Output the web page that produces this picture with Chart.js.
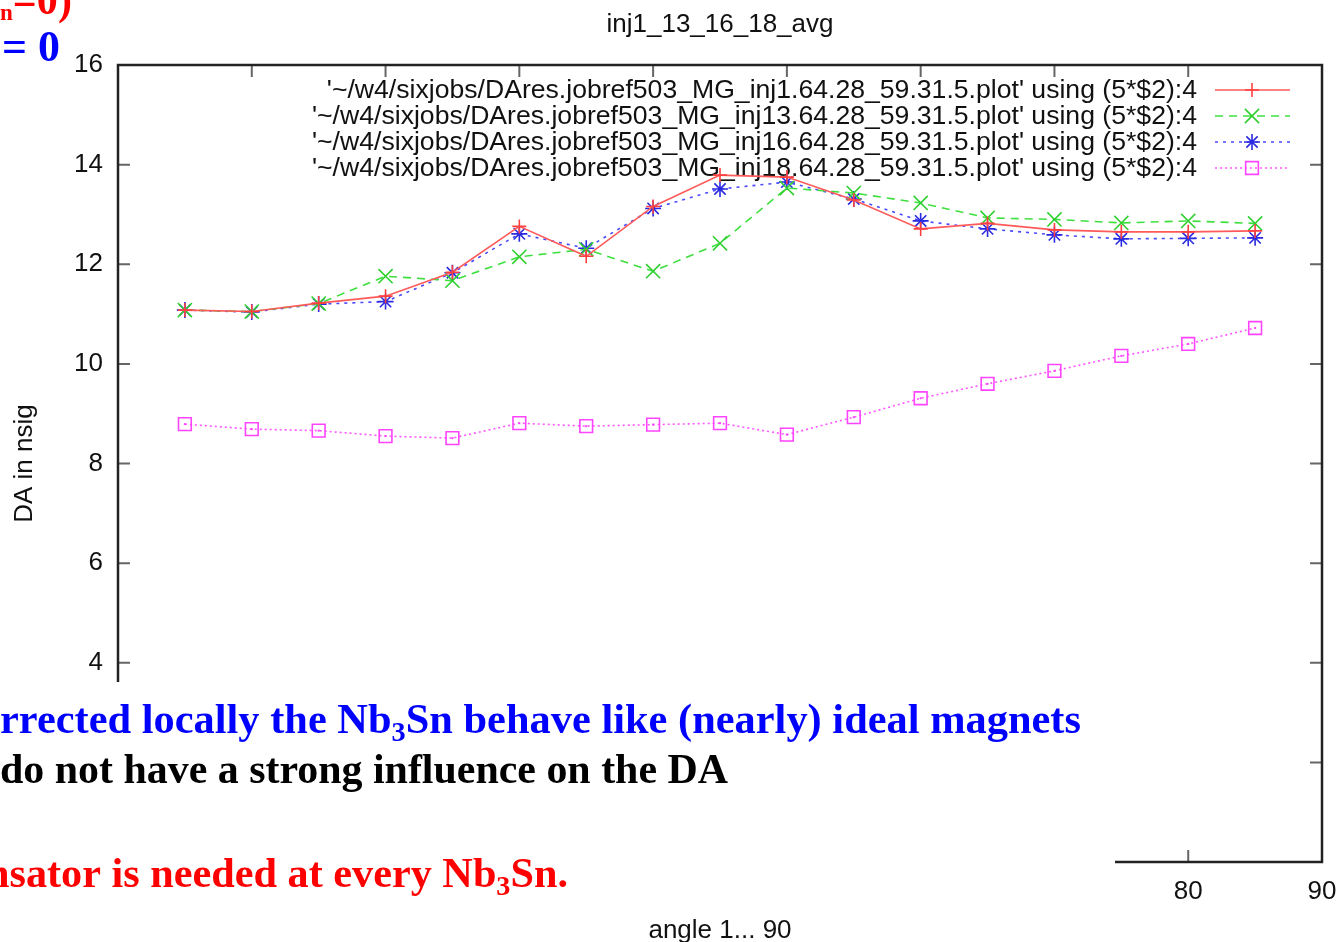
<!DOCTYPE html>
<html>
<head>
<meta charset="utf-8">
<script src="https://cdn.jsdelivr.net/npm/chart.js@4.4.1/dist/chart.umd.min.js"></script>
<style>
  html, body { margin: 0; padding: 0; background: #fff; }
  canvas { display: block; }
</style>
</head>
<body>
<canvas id="daChart" width="1342" height="942"></canvas>
<script>
// angle scan (5*$2) and averaged dynamic aperture per injection run
var angles = [5, 10, 15, 20, 25, 30, 35, 40, 45, 50, 55, 60, 65, 70, 75, 80, 85];
var daInj1 = [11.08, 11.05, 11.22, 11.36, 11.84, 12.76, 12.16, 13.16, 13.79, 13.75, 13.29, 12.71, 12.82, 12.69, 12.65, 12.65, 12.67];
var daInj13 = [11.08, 11.05, 11.21, 11.76, 11.67, 12.15, 12.30, 11.86, 12.42, 13.53, 13.43, 13.23, 12.93, 12.90, 12.83, 12.87, 12.82];
var daInj16 = [11.08, 11.04, 11.20, 11.25, 11.83, 12.61, 12.32, 13.12, 13.51, 13.65, 13.31, 12.87, 12.71, 12.59, 12.51, 12.52, 12.53];
var daInj18 = [8.79, 8.69, 8.66, 8.55, 8.51, 8.81, 8.75, 8.78, 8.81, 8.58, 8.93, 9.31, 9.60, 9.86, 10.16, 10.40, 10.72];

var seriesLabels = [
  "'~/w4/sixjobs/DAres.jobref503_MG_inj1.64.28_59.31.5.plot' using (5*$2):4",
  "'~/w4/sixjobs/DAres.jobref503_MG_inj13.64.28_59.31.5.plot' using (5*$2):4",
  "'~/w4/sixjobs/DAres.jobref503_MG_inj16.64.28_59.31.5.plot' using (5*$2):4",
  "'~/w4/sixjobs/DAres.jobref503_MG_inj18.64.28_59.31.5.plot' using (5*$2):4"
];
var plotTitle = 'inj1_13_16_18_avg';
var xTitle = 'angle 1... 90';
var yTitle = 'DA in nsig';
var xRange = [0, 90, 10];
var yRange = [0, 16, 2];

var sansFamily = '"Liberation Sans", Arial, Helvetica, sans-serif';
var serifFamily = '"Liberation Serif", "Times New Roman", serif';

function toPoints(values) {
  return values.map(function (v, i) { return { x: angles[i], y: v }; });
}

// bold serif text made of pieces (subscripts), squeezed to a given width
function drawRich(ctx, parts, x, baseline, width, color) {
  ctx.save();
  ctx.textAlign = 'left';
  ctx.textBaseline = 'alphabetic';
  var natural = 0;
  parts.forEach(function (p) {
    ctx.font = 'bold ' + p.size + 'px ' + serifFamily;
    p.w = ctx.measureText(p.t).width;
    natural += p.w;
  });
  ctx.translate(x, baseline);
  ctx.scale(width / natural, 1);
  ctx.fillStyle = color;
  var cx = 0;
  parts.forEach(function (p) {
    ctx.font = 'bold ' + p.size + 'px ' + serifFamily;
    ctx.fillText(p.t, cx, p.dy || 0);
    cx += p.w;
  });
  ctx.restore();
}

var gnuplotFrame = {
  id: 'gnuplotFrame',
  beforeDatasetsDraw: function (chart) {
    var ctx = chart.ctx, a = chart.chartArea;
    var xs = chart.scales.x, ys = chart.scales.y;
    ctx.save();

    // inward ticks on all four sides
    ctx.strokeStyle = '#666';
    ctx.lineWidth = 2;
    ctx.beginPath();
    xs.ticks.forEach(function (t) {
      var px = xs.getPixelForValue(t.value);
      ctx.moveTo(px, a.bottom); ctx.lineTo(px, a.bottom - 12);
      ctx.moveTo(px, a.top); ctx.lineTo(px, a.top + 12);
    });
    ys.ticks.forEach(function (t) {
      var py = ys.getPixelForValue(t.value);
      ctx.moveTo(a.left, py); ctx.lineTo(a.left + 12, py);
      ctx.moveTo(a.right, py); ctx.lineTo(a.right - 12, py);
    });
    ctx.stroke();

    ctx.strokeStyle = '#222';
    ctx.lineWidth = 2.5;
    ctx.strokeRect(a.left, a.top, a.right - a.left, a.bottom - a.top);

    // key in the top right corner: text right aligned, sample on the right
    ctx.font = '26px ' + sansFamily;
    var longest = 0;
    seriesLabels.forEach(function (s) { longest = Math.max(longest, ctx.measureText(s).width); });
    var squeeze = 885 / longest;
    chart.data.datasets.forEach(function (ds, i) {
      var ry = a.top + 25 + i * 26;
      var textRight = a.right - 125;
      ctx.save();
      ctx.translate(textRight, ry);
      ctx.scale(squeeze, 1);
      ctx.fillStyle = '#111';
      ctx.textAlign = 'right';
      ctx.textBaseline = 'middle';
      ctx.fillText(ds.label, 0, 1);
      ctx.restore();

      ctx.save();
      ctx.strokeStyle = ds.borderColor;
      ctx.lineWidth = ds.borderWidth;
      ctx.setLineDash(ds.borderDash || []);
      ctx.beginPath();
      ctx.moveTo(a.right - 107, ry);
      ctx.lineTo(a.right - 32, ry);
      ctx.stroke();
      ctx.setLineDash([]);
      ctx.fillStyle = ds.pointBackgroundColor;
      ctx.strokeStyle = ds.pointBorderColor;
      ctx.lineWidth = ds.pointBorderWidth;
      Chart.helpers.drawPoint(ctx, {
        pointStyle: ds.pointStyle, radius: ds.pointRadius,
        borderWidth: ds.pointBorderWidth, rotation: 0
      }, a.right - 70, ry);
      ctx.restore();
    });
    ctx.restore();
  },
  afterDatasetsDraw: function (chart) {
    // small dot at the centre of every square marker
    var ctx = chart.ctx;
    var meta = chart.getDatasetMeta(3);
    ctx.save();
    ctx.fillStyle = '#ff44ff';
    meta.data.forEach(function (pt) {
      ctx.fillRect(pt.x - 1, pt.y - 1, 2, 2);
    });
    ctx.restore();
  },
  afterDraw: function (chart) {
    var ctx = chart.ctx, a = chart.chartArea;
    ctx.save();
    ctx.font = '26px ' + sansFamily;
    ctx.fillStyle = '#111';
    ctx.textAlign = 'center';
    ctx.textBaseline = 'middle';
    ctx.fillText(plotTitle, (a.left + a.right) / 2, 25);

    // slide text laid over the lower part of the plot
    ctx.fillStyle = '#fff';
    ctx.fillRect(0, 682, 1115, 234);

    drawRich(ctx, [
      { t: 'rrected locally the Nb', size: 42 },
      { t: '3', size: 28, dy: 8 },
      { t: 'Sn behave like (nearly) ideal magnets', size: 42 }
    ], 0, 733, 1081, '#0000ff');
    drawRich(ctx, [
      { t: 'do not have a strong influence on the DA', size: 42 }
    ], 0, 783, 728, '#000000');
    drawRich(ctx, [
      { t: 'nsator is needed at every Nb', size: 42 },
      { t: '3', size: 28, dy: 8 },
      { t: 'Sn.', size: 42 }
    ], -14, 887, 582, '#ff0000');

    drawRich(ctx, [
      { t: 'n', size: 24, dy: 6 },
      { t: '=0)', size: 44 }
    ], 0, 14, 72, '#ff0000');
    drawRich(ctx, [
      { t: '= 0', size: 44 }
    ], 2, 61, 58, '#0000ff');
    ctx.restore();
  }
};

new Chart(document.getElementById('daChart'), {
  type: 'line',
  data: {
    datasets: [{
      label: seriesLabels[0],
      data: toPoints(daInj1),
      borderColor: '#ff5a5a',
      borderWidth: 1.6,
      pointStyle: 'cross',
      pointRadius: 7,
      pointBorderColor: '#ff4040',
      pointBackgroundColor: 'transparent',
      pointBorderWidth: 1.6
    }, {
      label: seriesLabels[1],
      data: toPoints(daInj13),
      borderColor: '#3ee03e',
      borderWidth: 1.6,
      borderDash: [8, 6],
      pointStyle: 'crossRot',
      pointRadius: 10,
      pointBorderColor: '#30d030',
      pointBackgroundColor: 'transparent',
      pointBorderWidth: 1.6
    }, {
      label: seriesLabels[2],
      data: toPoints(daInj16),
      borderColor: '#4848ff',
      borderWidth: 1.6,
      borderDash: [3, 5],
      pointStyle: 'star',
      pointRadius: 8,
      pointBorderColor: '#2a2ae0',
      pointBackgroundColor: 'transparent',
      pointBorderWidth: 1.6
    }, {
      label: seriesLabels[3],
      data: toPoints(daInj18),
      borderColor: '#ff55ff',
      borderWidth: 1.6,
      borderDash: [2, 3],
      pointStyle: 'rect',
      pointRadius: 9,
      pointBorderColor: '#ff44ff',
      pointBackgroundColor: 'transparent',
      pointBorderWidth: 1.6
    }]
  },
  options: {
    responsive: false,
    animation: false,
    layout: { padding: { left: 0, right: 20, top: 65, bottom: 0 } },
    plugins: {
      legend: { display: false },
      tooltip: { enabled: false },
      title: { display: false }
    },
    elements: { line: { tension: 0, fill: false } },
    scales: {
      x: {
        type: 'linear',
        min: xRange[0],
        max: xRange[1],
        grid: { display: false, drawTicks: false },
        border: { display: false },
        ticks: {
          stepSize: xRange[2],
          padding: 14,
          color: '#111',
          font: { family: sansFamily, size: 26 }
        },
        title: {
          display: true,
          text: xTitle,
          color: '#111',
          padding: { top: 0, bottom: 0 },
          font: { family: sansFamily, size: 26, lineHeight: 0.85 }
        },
        afterFit: function (s) {
          s.height = 80;
          s.paddingLeft = 0;
          s.paddingRight = 0;
        }
      },
      y: {
        type: 'linear',
        min: yRange[0],
        max: yRange[1],
        grid: { display: false, drawTicks: false },
        border: { display: false },
        ticks: {
          stepSize: yRange[2],
          padding: 15,
          color: '#111',
          font: { family: sansFamily, size: 26 }
        },
        title: {
          display: true,
          text: yTitle,
          color: '#111',
          padding: { top: 12, bottom: 0 },
          font: { family: sansFamily, size: 26, lineHeight: 1 }
        },
        afterFit: function (s) { s.width = 118; }
      }
    }
  },
  plugins: [gnuplotFrame]
});
</script>
</body>
</html>
